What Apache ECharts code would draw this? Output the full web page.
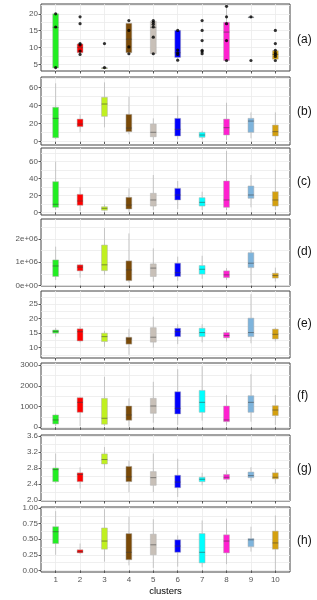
<!DOCTYPE html>
<html><head><meta charset="utf-8">
<script src="https://cdn.jsdelivr.net/npm/echarts@6/dist/echarts.min.js"></script>
<style>html,body{margin:0;padding:0;background:#fff}#c{width:317px;height:600px}</style>
</head><body><div id="c"></div><script>
const clusters = [1,2,3,4,5,6,7,8,9,10];
const colors = ['#22EE22','#FF0000','#C0F020','#7A4A08','#C8C0B8','#0000FF','#00FFFF','#FF20D0','#7EB4DC','#D4A00F'];

// [min, Q1, median, Q3, max] per cluster
const boxA = [[4,4,16,20,20],[8.5,8.5,10,11.1,11.1],[4,4,4,4,4],[8.5,8.5,12.5,17.2,17.2],[8.2,8.2,16,17.8,17.8],[7.1,7.1,8.5,15.1,15.1],null,[6.2,6.2,14.6,17.5,22.2],[19,19,19,19,19],[6.6,6.6,8,9.1,9.1]];
const pointsA = [[1,20],[1,16.1],[1,4.1],
  [2,19.1],[2,17.1],[2,11.2],[2,10.8],[2,9.0],[2,8.0],
  [3,11.2],[3,4.1],
  [4,18],[4,15.1],[4,10.2],[4,8.2],
  [5,18],[5,17.5],[5,16.9],[5,16.1],[5,13.1],[5,8.2],
  [6,15.1],[6,9.3],[6,8.5],[6,8.0],[6,6.3],
  [7,18],[7,15.1],[7,12.1],[7,9.2],[7,8.8],[7,8.2],
  [8,22.2],[8,19.1],[8,17.1],[8,12.1],[8,6.2],
  [9,19.1],[9,6.2],
  [10,15.1],[10,11.2],[10,9.2],[10,8.5],[10,8.0],[10,7.4],[10,6.2]];
const boxB = [[3,4.4,25.8,38,64.4],[10.4,16.6,19.5,25,30.2],[15.9,28,41.6,49,65.5],[8.2,11.1,15.1,30.2,49.6],[1.9,5.5,10.4,19.5,25.8],[2.7,6.3,13.7,25.8,50.7],[2.7,4.9,7.4,10.4,12.2],[1.9,7.4,15.5,25,43],[3.8,10.4,22.8,25.8,32.4],[1.9,6.3,11.1,18.4,32.4]];
const boxC = [[2.7,5.9,9.5,36.3,60],[1.5,8.3,13.4,21.3,29.6],[1,2.4,4.7,6.6,9.5],[0.7,3.9,8.6,17.8,28.4],[2.7,7.4,14.6,22.5,44.2],[3.9,14.6,20.5,28.4,37.1],[2.7,7.4,11.8,17.3,24.4],[2.7,5.9,14.6,37.1,72.7],[5.9,16.6,20.5,31.2,44.2],[2.7,7.4,14.6,24.4,50.2]];
const boxD = [[0.24e6,0.39e6,0.84e6,1.10e6,1.67e6],[0.34e6,0.63e6,0.79e6,0.89e6,0.92e6],[0.46e6,0.64e6,0.89e6,1.74e6,2.48e6],[0.13e6,0.21e6,0.67e6,1.06e6,2.24e6],[0.17e6,0.39e6,0.75e6,0.93e6,1.60e6],[0.20e6,0.39e6,0.55e6,0.96e6,1.24e6],[0.29e6,0.49e6,0.70e6,0.86e6,1.28e6],[0.24e6,0.34e6,0.46e6,0.63e6,0.75e6],[0.10e6,0.77e6,0.96e6,1.41e6,1.53e6],[0.17e6,0.32e6,0.43e6,0.53e6,0.77e6]];
const boxE = [[13.8,15.0,15.6,16.1,16.8],[11.8,12.3,15.5,16.5,17.3],[10.3,12.1,13.8,15.0,15.8],[7.5,11.2,13.0,13.6,16.5],[10.0,11.9,13.6,16.9,20.7],[11.2,13.8,15.5,16.7,18.1],[11.8,13.8,15.2,16.7,18.1],[12.1,13.4,14.2,15.2,16.1],[11.5,13.8,15.2,20.2,28.5],[12.1,13.0,14.6,16.4,16.9]];
const boxF = [[63,159,352,593,650],[63,722,1204,1427,1475],[63,145,434,1396,2437],[30,337,593,1026,1396],[222,674,1026,1396,2196],[111,641,915,1716,2807],[318,722,1204,1780,2952],[78,270,352,1026,1556],[270,722,1204,1524,2567],[111,560,833,1042,1556]];
const boxG = [[2.43,2.46,2.76,2.80,3.16],[2.29,2.46,2.64,2.68,2.82],[2.78,2.90,3.01,3.15,3.32],[2.20,2.46,2.58,2.84,2.98],[2.20,2.37,2.56,2.71,3.16],[2.08,2.31,2.45,2.62,3.03],[2.37,2.46,2.52,2.57,2.68],[2.43,2.52,2.57,2.64,2.74],[2.48,2.56,2.61,2.70,2.82],[2.41,2.53,2.57,2.68,2.78]];
const boxH = [[0.25,0.43,0.62,0.70,0.95],[0.26,0.28,0.30,0.33,0.43],[0.14,0.34,0.47,0.68,0.98],[0.08,0.17,0.29,0.59,0.86],[0.04,0.25,0.41,0.58,0.82],[0.06,0.29,0.39,0.49,0.56],[0.05,0.12,0.29,0.59,0.80],[0.10,0.28,0.47,0.57,0.83],[0.30,0.38,0.49,0.51,0.70],[0.01,0.34,0.44,0.63,0.88]];

const ticksA = [5,10,15,20], minorA = [7.5,12.5,17.5,22.5];
const ticksB = [0,20,40,60], minorB = [10,30,50,70];
const ticksC = [0,20,40,60], minorC = [10,30,50,70];
const ticksD = [0,1e6,2e6], minorD = [0.5e6,1.5e6,2.5e6];
const ticksE = [10,15,20,25], minorE = [7.5,12.5,17.5,22.5,27.5];
const ticksF = [0,1000,2000,3000], minorF = [500,1500,2500];
const ticksG = [2.0,2.4,2.8,3.2,3.6], minorG = [2.2,2.6,3.0,3.4];
const ticksH = [0,0.25,0.5,0.75,1.0], minorH = [0.125,0.375,0.625,0.875];
const panelLabels = ['(a)','(b)','(c)','(d)','(e)','(f)','(g)','(h)'];

const FONT = '"Liberation Sans", Arial, sans-serif';
const sci = v => { if (v === 0) return '0e+00'; const e = Math.floor(Math.log10(Math.abs(v))); const m = v/Math.pow(10,e); return Math.round(m) + 'e+' + String(e).padStart(2,'0'); };
const panels = [
  {box: boxA, ticks: ticksA, minor: minorA, range:[3.1,22.9], top:4, height:67, fmt: v => String(v), ly: 40},
  {box: boxB, ticks: ticksB, minor: minorB, range:[-3.6,71.4], top:77, height:68, fmt: v => String(v), ly: 111.5},
  {box: boxC, ticks: ticksC, minor: minorC, range:[-3.2,76.2], top:148, height:67, fmt: v => String(v), ly: 182},
  {box: boxD, ticks: ticksD, minor: minorD, range:[-0.02e6,2.86e6], top:219, height:67, fmt: sci, ly: 252},
  {box: boxE, ticks: ticksE, minor: minorE, range:[6.4,29.6], top:291, height:67, fmt: v => String(v), ly: 323.5},
  {box: boxF, ticks: ticksF, minor: minorF, range:[-85,3105], top:363, height:66, fmt: v => String(v), ly: 396},
  {box: boxG, ticks: ticksG, minor: minorG, range:[1.98,3.62], top:435, height:66, fmt: v => v.toFixed(1), ly: 469},
  {box: boxH, ticks: ticksH, minor: minorH, range:[-0.026,1.016], top:507, height:65, fmt: v => v.toFixed(2), ly: 541}
];

function renderBox(params, api) {
  const x = api.value(0);
  const v = [1,2,3,4,5].map(k => api.value(k));
  const w = api.size([0.24, 0])[0];
  const p = v.map(y => api.coord([x, y]));
  const cx = p[0][0], half = w / 2;
  const col = colors[x - 1];
  const wh = {stroke: 'rgba(150,150,150,0.6)', lineWidth: 0.8};
  return {type: 'group', children: [
    {type: 'line', shape: {x1: cx, y1: p[4][1], x2: cx, y2: p[3][1]}, style: wh},
    {type: 'line', shape: {x1: cx, y1: p[1][1], x2: cx, y2: p[0][1]}, style: wh},
    {type: 'rect', shape: {x: cx - half, y: p[3][1], width: w, height: Math.max(p[1][1] - p[3][1], 0.5)}, style: {fill: col, stroke: 'rgba(175,175,175,0.7)', lineWidth: 0.7}},
    {type: 'line', shape: {x1: cx - half, y1: p[2][1], x2: cx + half, y2: p[2][1]}, style: {stroke: 'rgba(60,60,60,0.6)', lineWidth: 0.9}}
  ]};
}

const option = {animation: false, backgroundColor: '#fff', grid: [], xAxis: [], yAxis: [], series: [], graphic: []};
panels.forEach((pn, i) => {
  const last = i === panels.length - 1;
  option.grid.push({left: 41, top: pn.top, width: 249, height: pn.height, show: true, borderColor: '#444', borderWidth: 1, backgroundColor: '#fff'});
  option.xAxis.push({type: 'value', gridIndex: i, min: 0.4, max: 10.6,
    axisLine: {show: false},
    axisTick: {show: true, customValues: clusters, length: 2.5, lineStyle: {color: '#333', width: 0.8}},
    axisLabel: {show: last, customValues: clusters, fontSize: 8, color: '#555', margin: 4, fontFamily: FONT},
    splitLine: {show: true, lineStyle: {color: '#EBEBEB', width: 0.8}},
    name: last ? 'clusters' : '', nameLocation: 'middle', nameGap: 14,
    nameTextStyle: {fontSize: 9.5, color: '#000', fontFamily: FONT}});
  option.yAxis.push({type: 'value', gridIndex: i, min: pn.range[0], max: pn.range[1],
    axisLine: {show: false},
    axisTick: {show: false, customValues: pn.ticks.concat(pn.minor)},
    axisLabel: {show: false},
    splitLine: {show: true, lineStyle: {color: '#EBEBEB', width: 0.8}}});
  option.yAxis.push({type: 'value', gridIndex: i, min: pn.range[0], max: pn.range[1], position: 'left',
    axisLine: {show: false},
    axisTick: {show: true, customValues: pn.ticks, length: 2.5, lineStyle: {color: '#333', width: 0.8}},
    axisLabel: {customValues: pn.ticks, formatter: pn.fmt, fontSize: 8, color: '#555', margin: 3, fontFamily: FONT},
    splitLine: {show: false}});
  const data = [];
  pn.box.forEach((b, k) => { if (b) data.push([clusters[k]].concat(b)); });
  option.series.push({type: 'custom', xAxisIndex: i, yAxisIndex: 2 * i, data: data, renderItem: renderBox,
    encode: {x: 0, y: [1,2,3,4,5]}, z: 3});
  option.graphic.push({type: 'text', x: 297, y: pn.ly, style: {text: panelLabels[i], font: '12px ' + FONT, fill: '#111', verticalAlign: 'middle'}});
});
option.series.push({type: 'scatter', xAxisIndex: 0, yAxisIndex: 0, data: pointsA, symbolSize: 3.2, itemStyle: {color: '#000'}, z: 5});

const chart = echarts.init(document.getElementById('c'), null, {renderer: 'canvas'});
chart.setOption(option);
</script></body></html>
